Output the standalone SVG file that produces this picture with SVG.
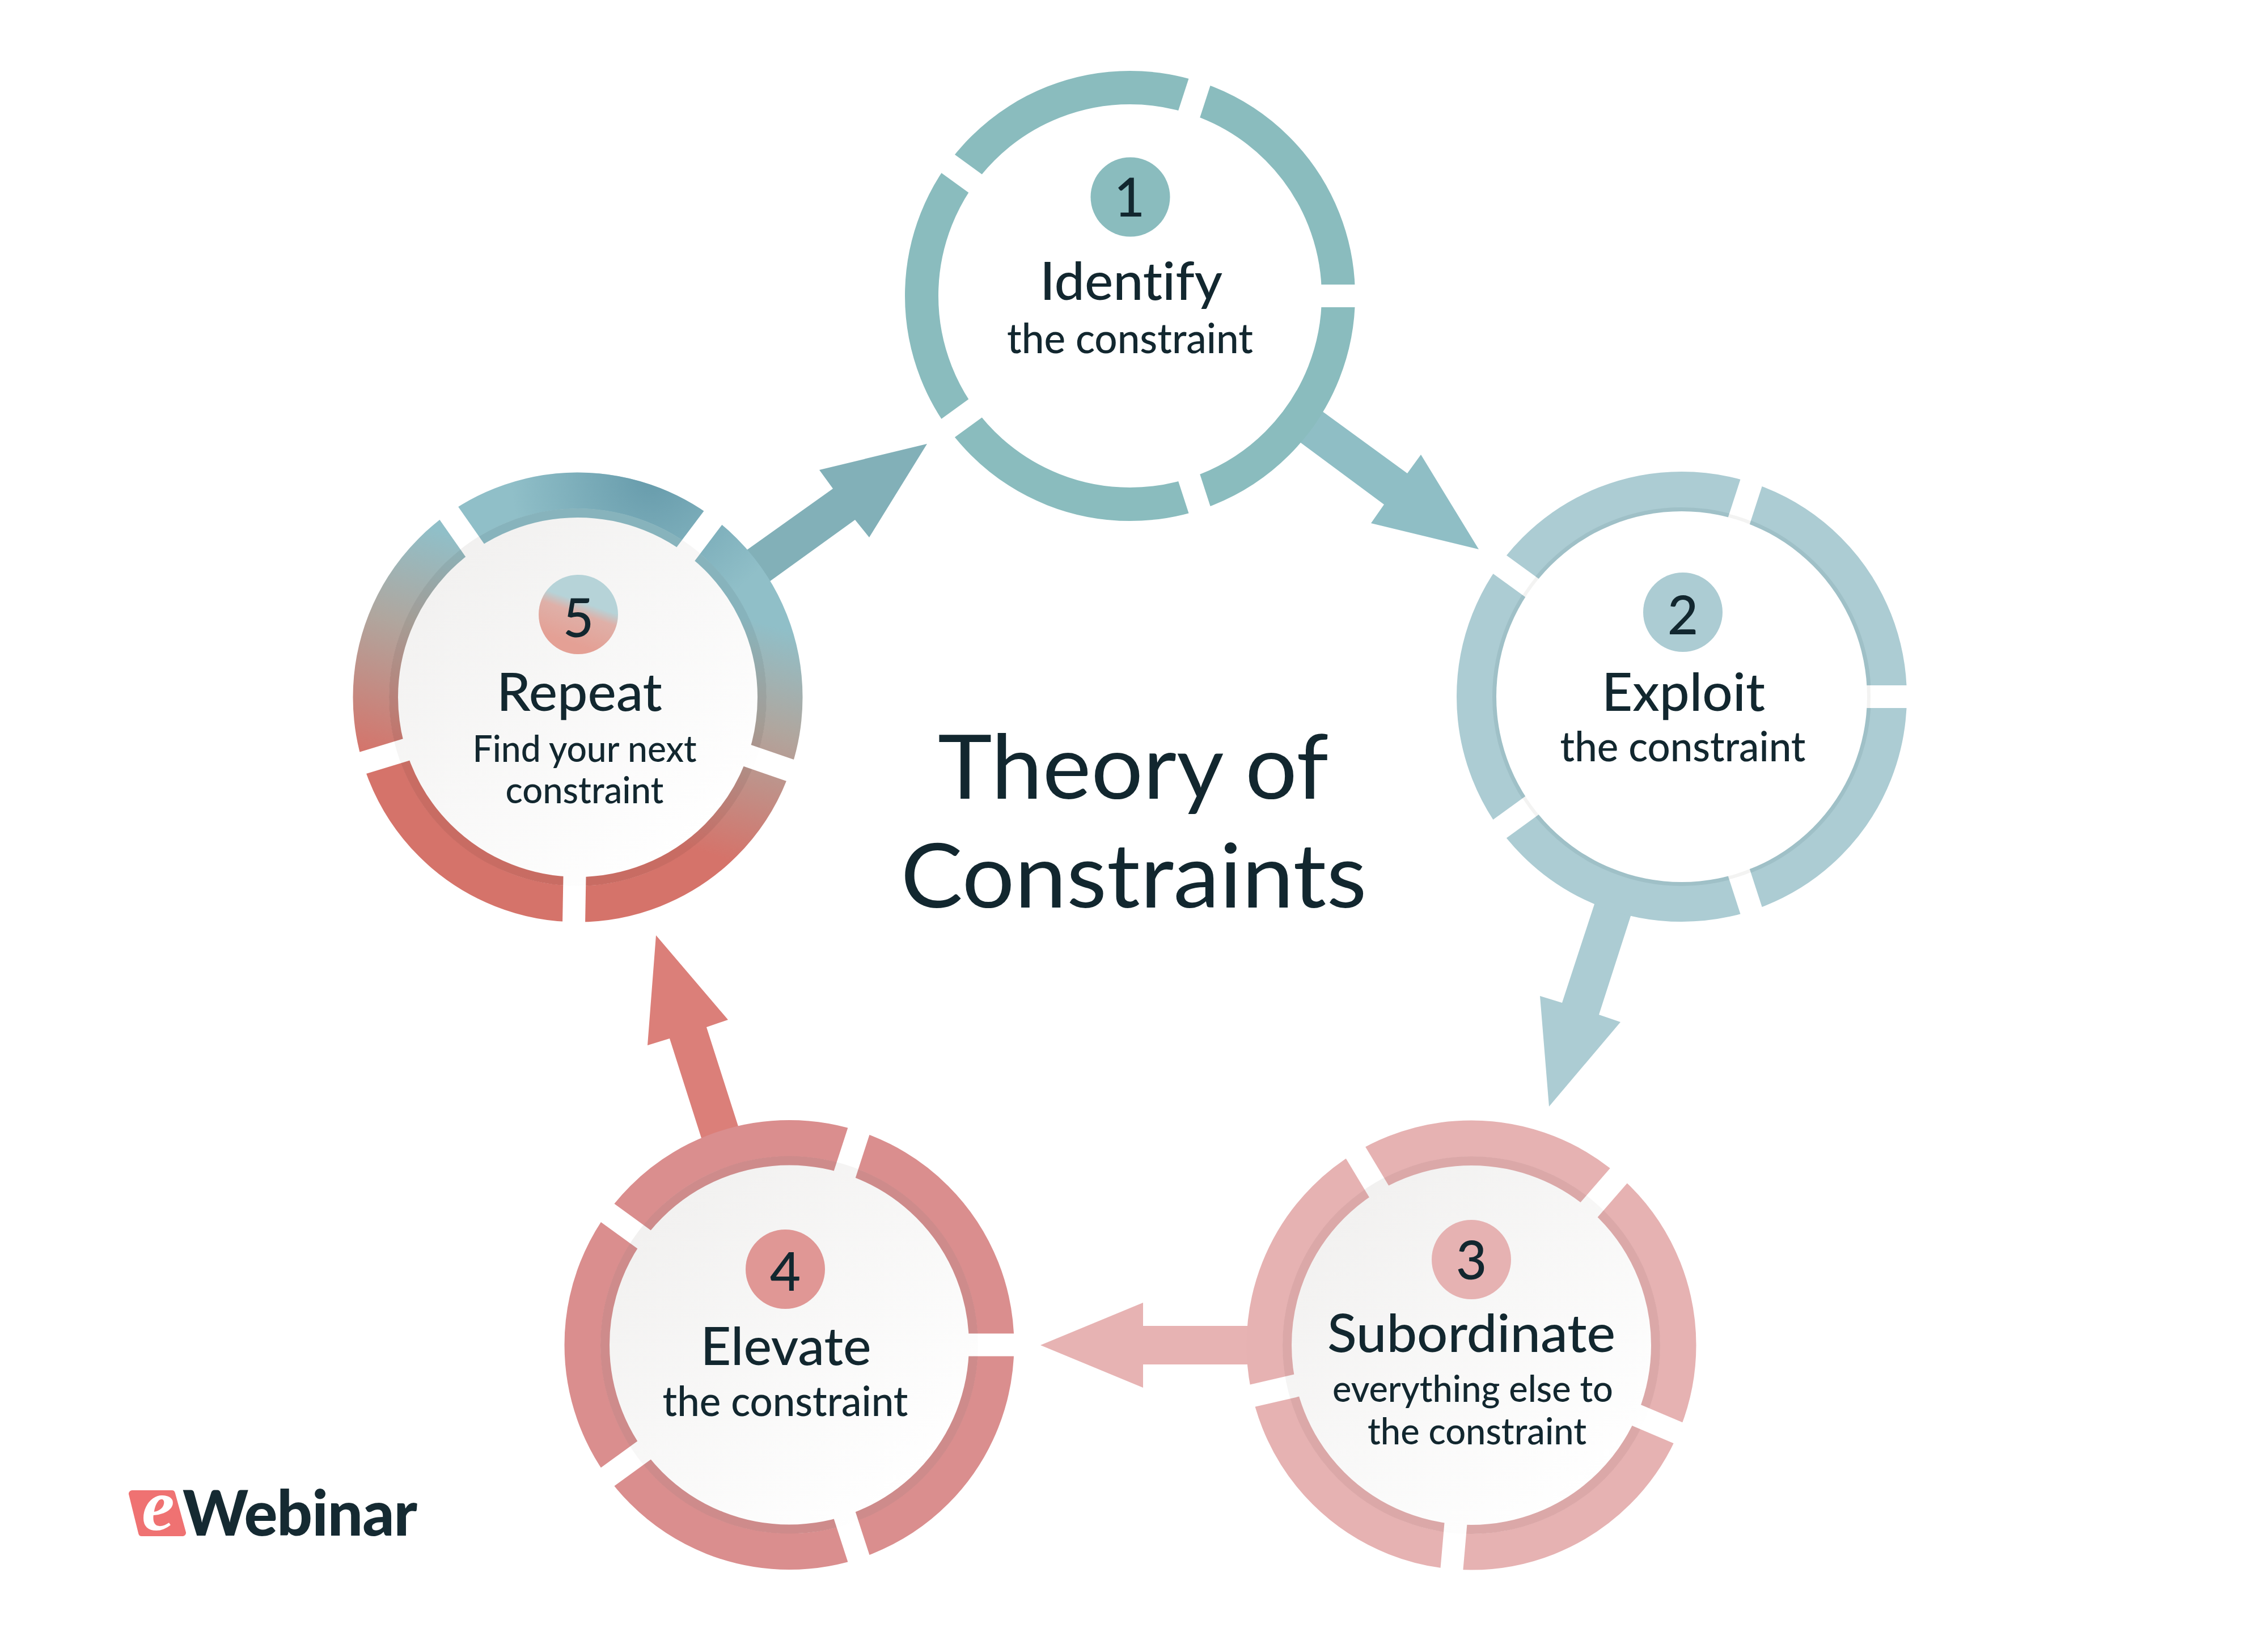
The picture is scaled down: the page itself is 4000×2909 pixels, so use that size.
<svg xmlns="http://www.w3.org/2000/svg" xmlns:xlink="http://www.w3.org/1999/xlink" width="4000" height="2909" viewBox="0 0 4000 2909">
<style>
text{font-family:"Lato","Inter","Liberation Sans",sans-serif;font-weight:500;font-variant-ligatures:none;fill:#12272f;text-anchor:middle}
.t{font-size:158px;font-weight:400}
.h{font-size:93px}
.s{font-size:74px}
.x{font-size:66px}
.n{font-size:94px}
.ring{fill:none;stroke-width:64}
.band{fill:none;stroke-width:16}
</style>
<defs>
<line id="ray" x1="280" y1="0" x2="430" y2="0" stroke="#000" stroke-width="40"/>
<linearGradient id="disc" x1="0.12" y1="0.1" x2="0.8" y2="0.9"><stop offset="0" stop-color="#f1f0ef"/><stop offset="1" stop-color="#ffffff"/></linearGradient>
<linearGradient id="g5" gradientUnits="userSpaceOnUse" x1="1065" y1="1019" x2="950" y2="1420"><stop offset="0" stop-color="#90bfc8"/><stop offset="0.42" stop-color="#b0a69e"/><stop offset="1" stop-color="#d5736a"/></linearGradient>
<radialGradient id="g5d" gradientUnits="userSpaceOnUse" cx="1150" cy="840" r="250"><stop offset="0" stop-color="#6297a8" stop-opacity="0.9"/><stop offset="1" stop-color="#6297a8" stop-opacity="0"/></radialGradient>
<linearGradient id="b5" x1="0.62" y1="0.15" x2="0.38" y2="0.85"><stop offset="0.28" stop-color="#b6d3d8"/><stop offset="0.48" stop-color="#dfb0a8"/><stop offset="1" stop-color="#e4a095"/></linearGradient>
<mask id="m1" maskUnits="userSpaceOnUse" x="0" y="0" width="4000" height="2909"><rect width="4000" height="2909" fill="#fff"/><g transform="translate(1993,522)"><use xlink:href="#ray"/><use xlink:href="#ray" transform="rotate(72)"/><use xlink:href="#ray" transform="rotate(-72)"/><use xlink:href="#ray" transform="rotate(144)"/><use xlink:href="#ray" transform="rotate(-144)"/></g></mask>
<mask id="m2" maskUnits="userSpaceOnUse" x="0" y="0" width="4000" height="2909"><rect width="4000" height="2909" fill="#fff"/><g transform="translate(2966,1229)"><use xlink:href="#ray"/><use xlink:href="#ray" transform="rotate(72)"/><use xlink:href="#ray" transform="rotate(-72)"/><use xlink:href="#ray" transform="rotate(144)"/><use xlink:href="#ray" transform="rotate(-144)"/></g></mask>
<mask id="m3" maskUnits="userSpaceOnUse" x="0" y="0" width="4000" height="2909"><rect width="4000" height="2909" fill="#fff"/><g transform="translate(2595,2373)"><use xlink:href="#ray" transform="rotate(23)"/><use xlink:href="#ray" transform="rotate(95)"/><use xlink:href="#ray" transform="rotate(167)"/><use xlink:href="#ray" transform="rotate(-121)"/><use xlink:href="#ray" transform="rotate(-49)"/></g></mask>
<mask id="m4" maskUnits="userSpaceOnUse" x="0" y="0" width="4000" height="2909"><rect width="4000" height="2909" fill="#fff"/><g transform="translate(1392,2372.5)"><use xlink:href="#ray"/><use xlink:href="#ray" transform="rotate(72)"/><use xlink:href="#ray" transform="rotate(-72)"/><use xlink:href="#ray" transform="rotate(144)"/><use xlink:href="#ray" transform="rotate(-144)"/></g></mask>
<mask id="m5" maskUnits="userSpaceOnUse" x="0" y="0" width="4000" height="2909"><rect width="4000" height="2909" fill="#fff"/><g transform="translate(1019,1230)"><use xlink:href="#ray" transform="rotate(19)"/><use xlink:href="#ray" transform="rotate(91)"/><use xlink:href="#ray" transform="rotate(163)"/><use xlink:href="#ray" transform="rotate(-125)"/><use xlink:href="#ray" transform="rotate(-53)"/></g></mask>
</defs>
<rect width="4000" height="2909" fill="#fff"/>
<g id="connectors">
<polygon id="c12" fill="#8fbec5" points="2294,745 2246,745 2294,781 2441,890 2418,923 2608,969 2506,802 2482,835 2334,727 2286,691"/>
<polygon id="c23" fill="#acccd3" points="2822,1565 2812,1595 2755,1769 2716,1757 2732,1952 2858,1803 2820,1790 2876,1616 2886,1587"/>
<polygon id="c34" fill="#e7b3b3" points="2230,2339 2016,2339 2016,2298 1835,2373 2016,2448 2016,2407 2230,2407"/>
<polygon id="c45" fill="#db7f79" points="1311,2015 1246,1812 1284,1799 1157,1650 1142,1844 1181,1832 1246,2036"/>
<polygon id="c51" fill="#82b0b8" points="1281,996 1469,862 1445,829 1635,783 1533,948 1508,917 1321,1052"/>
</g>
<g id="node-1">
<circle cx="1993" cy="522" r="345" fill="#fff"/>
<circle cx="1993" cy="522" r="367.5" class="ring" style="stroke-width:59" stroke="#8abcbe" mask="url(#m1)"/>
<circle cx="1993.5" cy="347.5" r="70" fill="#8abcbe"/>
<text class="n" x="1992" y="382">1</text>
<text class="h" x="1995" y="529" textLength="322" lengthAdjust="spacingAndGlyphs">Identify</text>
<text class="s" x="1993" y="623" textLength="434" lengthAdjust="spacingAndGlyphs">the constraint</text>
</g>
<g id="node-2">
<circle cx="2966" cy="1229" r="333" fill="#f3f3f2"/>
<g mask="url(#m2)">
<circle cx="2966" cy="1229" r="365" class="ring" stroke="#acccd3"/>
<circle cx="2966" cy="1229" r="330" fill="none" stroke-width="8" stroke="#9fc0c7"/>
</g>
<circle cx="2966" cy="1229" r="327" fill="#fff"/>
<circle cx="2968" cy="1080" r="70" fill="#acccd3"/>
<text class="n" x="2968" y="1119">2</text>
<text class="h" x="2969" y="1254" textLength="288" lengthAdjust="spacingAndGlyphs">Exploit</text>
<text class="s" x="2968" y="1343" textLength="433" lengthAdjust="spacingAndGlyphs">the constraint</text>
</g>
<g id="node-3">
<circle cx="2595" cy="2373" r="333" fill="url(#disc)"/>
<g mask="url(#m3)">
<circle cx="2595" cy="2373" r="364.5" class="ring" stroke="#e6b2b2"/>
<circle cx="2595" cy="2373" r="325" class="band" stroke="#dba8a8"/>
</g>
<circle cx="2595" cy="2222" r="70" fill="#e6b2b2"/>
<text class="n" x="2595" y="2257">3</text>
<text class="h" x="2595" y="2385" textLength="508" lengthAdjust="spacingAndGlyphs">Subordinate</text>
<text class="x" x="2597.5" y="2473" textLength="495" lengthAdjust="spacingAndGlyphs">everything else to</text>
<text class="x" x="2605" y="2548" textLength="386" lengthAdjust="spacingAndGlyphs">the constraint</text>
</g>
<g id="node-4">
<circle cx="1392" cy="2372.5" r="333" fill="url(#disc)"/>
<g mask="url(#m4)">
<circle cx="1392" cy="2372.5" r="364.5" class="ring" stroke="#da8e8e"/>
<circle cx="1392" cy="2372.5" r="325" class="band" stroke="#ce8b8b"/>
</g>
<circle cx="1385" cy="2239" r="70" fill="#e09795"/>
<text class="n" x="1385" y="2277">4</text>
<text class="h" x="1386" y="2408" textLength="301" lengthAdjust="spacingAndGlyphs">Elevate</text>
<text class="s" x="1385" y="2498" textLength="433" lengthAdjust="spacingAndGlyphs">the constraint</text>
</g>
<g id="node-5">
<circle cx="1019" cy="1230" r="333" fill="url(#disc)"/>
<g mask="url(#m5)">
<circle cx="1019" cy="1230" r="364.5" class="ring" stroke="url(#g5)"/>
<circle cx="1019" cy="1230" r="364.5" class="ring" stroke="url(#g5d)"/>
<circle cx="1019" cy="1230" r="325" class="band" stroke="url(#g5)"/>
<circle cx="1019" cy="1230" r="325" class="band" stroke="#000" stroke-opacity="0.06"/>
</g>
<circle cx="1020" cy="1084" r="70" fill="url(#b5)"/>
<text class="n" x="1020" y="1124">5</text>
<text class="h" x="1022" y="1254" textLength="292" lengthAdjust="spacingAndGlyphs">Repeat</text>
<text class="x" x="1031" y="1344" textLength="395" lengthAdjust="spacingAndGlyphs">Find your next</text>
<text class="x" x="1031" y="1417" textLength="279" lengthAdjust="spacingAndGlyphs">constraint</text>
</g>
<g id="title">
<text class="t" x="1998.5" y="1409" textLength="689" lengthAdjust="spacingAndGlyphs">Theory of</text>
<text class="t" x="1999.5" y="1601" textLength="822" lengthAdjust="spacingAndGlyphs">Constraints</text>
</g>
<g id="logo">
<polygon points="233,2635 303,2635 322,2704 250,2704" fill="#ef7272" stroke="#ef7272" stroke-width="12" stroke-linejoin="round"/>
<text y="2699" style="text-anchor:start"><tspan x="250" style="font-family:'Liberation Serif',serif;font-style:italic;font-weight:700;font-size:130px;fill:#fff">e</tspan><tspan x="322" y="2709" style="font-weight:900;font-size:110px;letter-spacing:-1px;fill:#152a32">Webinar</tspan></text>
</g>
</svg>
